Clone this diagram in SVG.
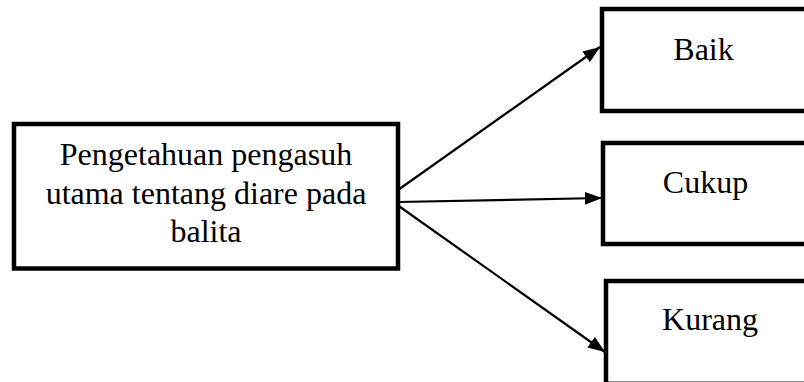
<svg xmlns="http://www.w3.org/2000/svg" width="804" height="382" viewBox="0 0 804 382">
<style>
.box{fill:#fff;stroke:#000;stroke-width:4.5;stroke-linejoin:miter}
.lbl{font-family:"Liberation Serif","Times New Roman",serif;font-size:32px;fill:#000;text-anchor:middle}
.con{stroke:#000;stroke-width:2.2;fill:none}
</style>
<defs>
<marker id="ah" markerUnits="userSpaceOnUse" markerWidth="18" markerHeight="14" refX="17" refY="7" orient="auto">
<path d="M0,0.5 L17,7 L0,13.5 z" fill="#000"/>
</marker>
</defs>
<rect width="804" height="382" fill="#fff"/>
<g id="node-main">
<rect class="box" x="14" y="124" width="384" height="144.5"/>
<text class="lbl" x="206" y="165">Pengetahuan pengasuh</text>
<text class="lbl" x="206" y="203.5">utama tentang diare pada</text>
<text class="lbl" x="206" y="242">balita</text>
</g>
<g id="node-baik">
<rect class="box" x="602" y="9" width="220" height="102"/>
<text class="lbl" x="703.5" y="60">Baik</text>
</g>
<g id="node-cukup">
<rect class="box" x="603" y="143" width="220" height="101"/>
<text class="lbl" x="705.5" y="193">Cukup</text>
</g>
<g id="node-kurang">
<rect class="box" x="606" y="281" width="220" height="102.8"/>
<text class="lbl" x="710" y="330">Kurang</text>
</g>
<g id="connectors">
<line class="con" x1="398" y1="190" x2="600" y2="47" marker-end="url(#ah)"/>
<line class="con" x1="398" y1="202" x2="602" y2="198" marker-end="url(#ah)"/>
<line class="con" x1="398" y1="205.5" x2="605" y2="352" marker-end="url(#ah)"/>
</g>
</svg>
